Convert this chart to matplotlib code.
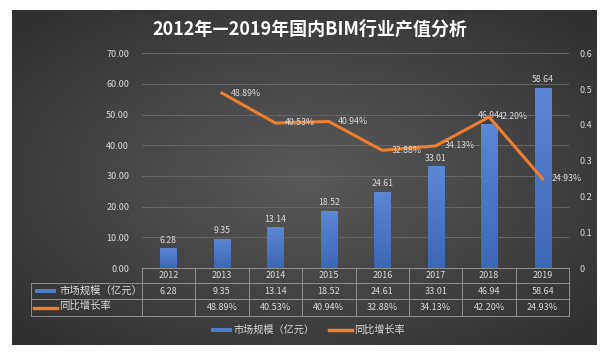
import numpy as np
import matplotlib
matplotlib.use("Agg")
from matplotlib import pyplot as plt
from matplotlib.lines import Line2D
from matplotlib.patches import Rectangle
from matplotlib.colors import LinearSegmentedColormap

plt.rcParams["font.family"] = ["Noto Sans CJK SC", "DejaVu Sans"]

years = ["2012", "2013", "2014", "2015", "2016", "2017", "2018", "2019"]
market = [6.28, 9.35, 13.14, 18.52, 24.61, 33.01, 46.94, 58.64]
growth = [None, 0.4889, 0.4053, 0.4094, 0.3288, 0.3413, 0.4220, 0.2493]
bar_name = "市场规模（亿元）"
line_name = "同比增长率"
title = "2012年—2019年国内BIM行业产值分析"

W, H = 604, 359
txt_color = "#d9d9d9"
orange = "#ed7d31"
grid_color = "#666666"
border = "#8f8f8f"

fig = plt.figure(figsize=(W / 100, H / 100), dpi=100)
fig.patch.set_facecolor("white")


def fx(px):
    return px / W


def fy(py):
    return 1 - py / H


# dark radial background
bg = fig.add_axes([fx(12), fy(345), fx(597) - fx(12), fy(9.5) - fy(345)])
gx, gy = np.meshgrid(np.linspace(-1, 1, 300), np.linspace(-1, 1, 200))
r = np.clip(np.sqrt(gx ** 2 + gy ** 2) / 1.35, 0, 1)
c0 = np.array([0x5a, 0x5a, 0x5a]) / 255
c1 = np.array([0x30, 0x30, 0x30]) / 255
img = c0[None, None, :] * (1 - r[..., None]) + c1[None, None, :] * r[..., None]
bg.imshow(img, aspect="auto", extent=[0, 1, 0, 1], zorder=0)
bg.set_xlim(0, 1)
bg.set_ylim(0, 1)
bg.axis("off")

# main axes
x0, x1 = 141.7, 569.3
ax = fig.add_axes([fx(x0), fy(268), fx(x1) - fx(x0), fy(53.3) - fy(268)])
ax.patch.set_alpha(0)
x = np.arange(len(years))
bars = ax.bar(x, market, width=0.3, color="none", zorder=2)
grad = np.linspace(0, 1, 100)[:, None]
bar_cmap = LinearSegmentedColormap.from_list("bar", ["#3c67b5", "#5b87d4"])
for b in bars:
    bx, by = b.get_x(), b.get_y()
    ax.imshow(grad, cmap=bar_cmap, aspect="auto", origin="lower",
              extent=[bx, bx + b.get_width(), by, by + b.get_height()], zorder=2)
ax.set_xlim(-0.5, len(years) - 0.5)
ax.set_ylim(0, 70)
ax.set_yticks(np.arange(0, 71, 10))
ax.set_yticklabels([f"{v:.2f}" for v in np.arange(0, 71, 10)])
ax.set_xticks([])
ax.tick_params(axis="y", length=0, pad=9, labelsize=6.5, labelcolor=txt_color)
ax.grid(axis="y", color=grid_color, linewidth=0.7, zorder=0)
for s in ax.spines.values():
    s.set_visible(False)
for xi, v in zip(x, market):
    ax.annotate(f"{v:.2f}", (xi, v), xytext=(0, 3), textcoords="offset points",
                ha="center", va="bottom", fontsize=6.3, color=txt_color, zorder=4)

ax2 = ax.twinx()
ax2.set_ylim(0, 0.6)
ax2.set_yticks(np.arange(0, 0.61, 0.1))
ax2.set_yticklabels(["0", "0.1", "0.2", "0.3", "0.4", "0.5", "0.6"])
ax2.tick_params(axis="y", length=0, pad=7, labelsize=6.5, labelcolor=txt_color)
for s in ax2.spines.values():
    s.set_visible(False)
gx_ = [xi for xi, g in zip(x, growth) if g is not None]
gv = [g for g in growth if g is not None]
ax2.plot(gx_, gv, color=orange, linewidth=2.2, zorder=5, solid_joinstyle="miter")
for xi, g in zip(gx_, gv):
    ax2.annotate(f"{g * 100:.2f}%", (xi, g), xytext=(6.5, 0), textcoords="offset points",
                 ha="left", va="center", fontsize=6.3, color=txt_color, zorder=6)

# data table
col_w = (x1 - x0) / len(years)
rows = [268, 282.7, 299.3, 315.7]
lab_left = 31.3


def hline(px_a, px_b, py):
    fig.add_artist(Line2D([fx(px_a), fx(px_b)], [fy(py), fy(py)], color=border, linewidth=0.7))


def vline(px, py_a, py_b):
    fig.add_artist(Line2D([fx(px), fx(px)], [fy(py_a), fy(py_b)], color=border, linewidth=0.7))


hline(x0, x1, rows[0])
for py in rows[1:]:
    hline(lab_left, x1, py)
for i in range(len(years) + 1):
    vline(x0 + i * col_w, rows[0], rows[3])
vline(lab_left, rows[1], rows[3])

for i, yr in enumerate(years):
    cx = x0 + (i + 0.5) * col_w
    fig.text(fx(cx), fy((rows[0] + rows[1]) / 2), yr, ha="center", va="center",
             fontsize=6.5, color=txt_color)
    fig.text(fx(cx), fy((rows[1] + rows[2]) / 2), f"{market[i]:.2f}", ha="center",
             va="center", fontsize=6.5, color=txt_color)
    if growth[i] is not None:
        fig.text(fx(cx), fy((rows[2] + rows[3]) / 2), f"{growth[i] * 100:.2f}%",
                 ha="center", va="center", fontsize=6.5, color=txt_color)

ym1 = (rows[1] + rows[2]) / 2
ym2 = (rows[2] + rows[3]) / 2
fig.add_artist(Rectangle((fx(35), fy(ym1 + 2)), fx(56) - fx(35), fy(ym1 - 2) - fy(ym1 + 2),
                         facecolor="#4f7ccb", edgecolor="none"))
fig.add_artist(Line2D([fx(34), fx(57)], [fy(ym2), fy(ym2)], color=orange, linewidth=2.5))
fig.text(fx(59), fy(ym1), bar_name, ha="left", va="center", fontsize=7.5, color=txt_color)
fig.text(fx(59), fy(ym2 - 1.5), line_name, ha="left", va="center", fontsize=7.5, color=txt_color)

# legend
ly = 329.7
fig.add_artist(Rectangle((fx(211), fy(ly + 2)), fx(232) - fx(211), fy(ly - 2) - fy(ly + 2),
                         facecolor="#4f7ccb", edgecolor="none"))
fig.text(fx(234), fy(ly), bar_name, ha="left", va="center", fontsize=7.3, color=txt_color)
fig.add_artist(Line2D([fx(329), fx(352)], [fy(ly), fy(ly)], color=orange, linewidth=2.5))
fig.text(fx(354), fy(ly), line_name, ha="left", va="center", fontsize=7.3, color=txt_color)

fig.text(fx(309.5), fy(29), title, ha="center", va="center", fontsize=13,
         fontweight="bold", color="white")

fig.savefig("out.png", dpi=100, facecolor=fig.get_facecolor())
